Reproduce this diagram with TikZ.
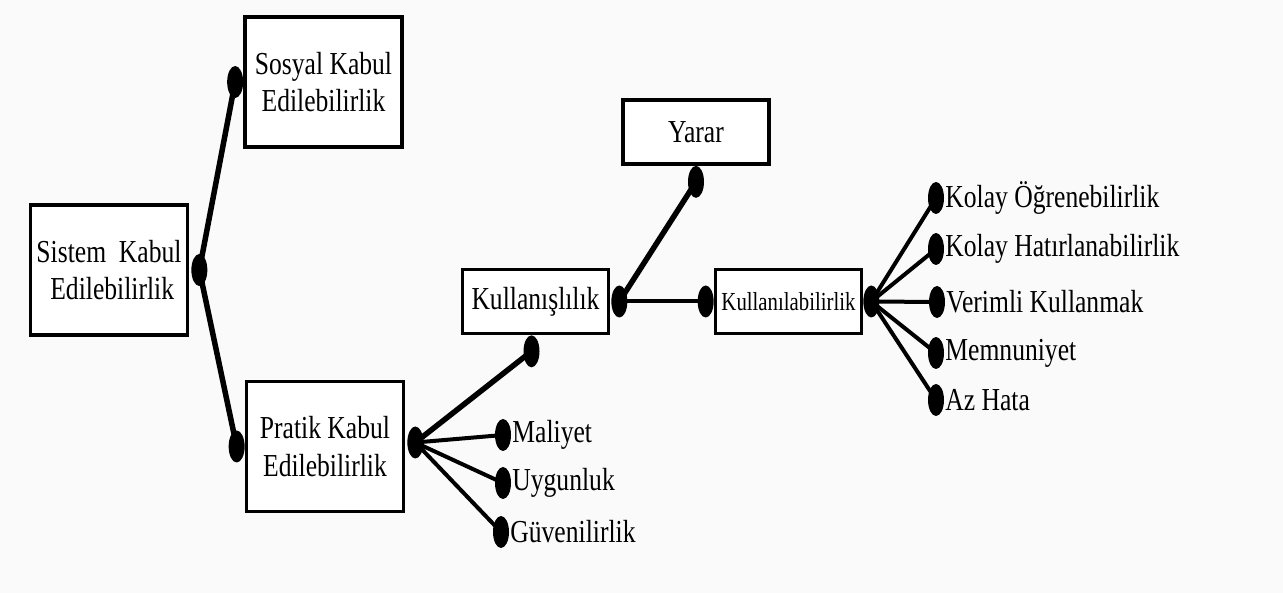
\documentclass[tikz,border=0pt]{standalone}
\usepackage{fontspec}
\setmainfont{Liberation Serif}[FakeStretch=0.8]
\usepackage{tikz}
\usetikzlibrary{positioning,shapes.geometric}
\definecolor{pagebg}{RGB}{250,250,250}

\begin{document}
\begin{tikzpicture}[x=1pt,y=-1pt,
node distance=0pt,
box/.style={draw,line width=3.3pt,fill=white,align=center,inner sep=2pt,font=\fontsize{32}{37.5}\selectfont},
bigbox/.style={box,minimum width=157pt,minimum height=130pt},
smallbox/.style={box,minimum width=146pt,minimum height=64pt},
dot/.style={ellipse,fill,inner sep=0pt,minimum width=16pt,minimum height=32pt},
leaf/.style={inner sep=1pt,anchor=west,font=\fontsize{32}{37.5}\selectfont},
link/.style={line width=5.5pt},
twig/.style={line width=4pt}]
\fill[pagebg] (0,0) rectangle (1283,593);
\useasboundingbox (0,0) rectangle (1283,593);
% boxes
\node[bigbox] (sistem) at (109,270) {Sistem\ \ Kabul\\\ Edilebilirlik};
\node[bigbox] (sosyal) at (323.5,82) {Sosyal Kabul\\Edilebilirlik};
\node[bigbox] (pratik) at (325,446.5) {Pratik Kabul\\Edilebilirlik};
\node[smallbox] (kullanis) at (535.5,301.5) {Kullanışlılık};
\node[smallbox] (yarar) at (696,132) {Yarar};
\node[smallbox,font=\fontsize{26}{30}\selectfont] (kullabil) at (788.5,301.5) {Kullanılabilirlik};
% dots on the boxes
\node[dot,right=2pt of sistem] (dsistem) {};
\node[dot,left=0pt of sosyal] (dsosyal) {};
\node[dot,left=0pt of pratik] (dpratikl) {};
\node[dot,right=2pt of pratik,yshift=4pt] (dpratikr) {};
\node[dot,below=0pt of kullanis,xshift=-4pt] (dkullanisb) {};
\node[dot,right=1pt of kullanis] (dkullanisr) {};
\node[dot,below=0pt of yarar] (dyarar) {};
\node[dot,left=0pt of kullabil] (dkullabill) {};
\node[dot,right=0pt of kullabil] (dkullabilr) {};
% leaves of pratik
\node[dot] (dmaliyet) at (503,435) {};
\node[dot] (duygun) at (503,483) {};
\node[dot] (dguven) at (501,532) {};
\node[leaf] (maliyet) at (dmaliyet.east) {Maliyet};
\node[leaf] (uygun) at (duygun.east) {Uygunluk};
\node[leaf] (guven) at (dguven.east) {Güvenilirlik};
% leaves of kullanilabilirlik
\node[dot] (dogren) at (936,198) {};
\node[dot] (dhatir) at (936,249) {};
\node[dot] (dverim) at (937,302) {};
\node[dot] (dmemnun) at (936,353) {};
\node[dot] (dhata) at (936,400) {};
\node[leaf] (ogren) at (dogren.east) {Kolay Öğrenebilirlik};
\node[leaf] (hatir) at (dhatir.east) {Kolay Hatırlanabilirlik};
\node[leaf] (verim) at (dverim.east) {Verimli Kullanmak};
\node[leaf] (memnun) at (dmemnun.east) {Memnuniyet};
\node[leaf] (hata) at (dhata.east) {Az Hata};
% connectors
\draw[link] (dsistem.center)--(dsosyal.center);
\draw[link] (dsistem.center)--(dpratikl.center);
\draw[link] (dpratikr.center)--(dkullanisb.center);
\draw[link] (dkullanisr.center)--(dyarar.center);
\draw[twig] (dkullanisr.center)--(dkullabill.center);
\draw[twig] (dpratikr.center)--(dmaliyet.center);
\draw[twig] (dpratikr.center)--(duygun.center);
\draw[twig] (dpratikr.center)--(dguven.center);
\draw[twig] (dkullabilr.center)--(dogren.center);
\draw[twig] (dkullabilr.center)--(dhatir.center);
\draw[twig] (dkullabilr.center)--(dverim.center);
\draw[twig] (dkullabilr.center)--(dmemnun.center);
\draw[twig] (dkullabilr.center)--(dhata.center);
\end{tikzpicture}
\end{document}
